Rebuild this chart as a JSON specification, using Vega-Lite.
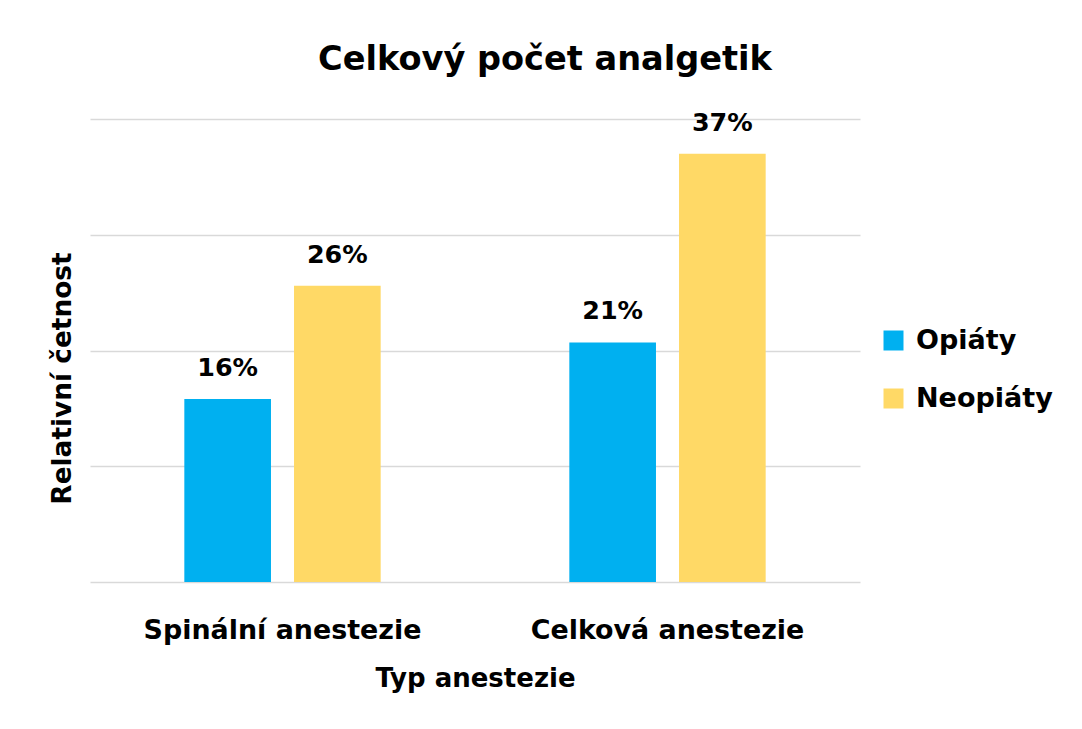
{
  "$schema": "https://vega.github.io/schema/vega-lite/v6.json",
  "width": 770,
  "height": 463,
  "autosize": {"type": "none"},
  "padding": {"left": 90, "top": 119, "right": 222, "bottom": 147},
  "background": "white",
  "config": {"view": {"stroke": null}, "font": "DejaVu Sans"},
  "title": {"text": "Celkový počet analgetik", "fontSize": 33.6, "font": "DejaVu Sans", "fontWeight": "bold", "color": "black", "anchor": "middle", "dx": 70, "offset": 34},
  "data": {"values": [
    {"typ": "Spinální anestezie", "skupina": "Opiáty", "hodnota": 0.158},
    {"typ": "Spinální anestezie", "skupina": "Neopiáty", "hodnota": 0.256},
    {"typ": "Celková anestezie", "skupina": "Opiáty", "hodnota": 0.207},
    {"typ": "Celková anestezie", "skupina": "Neopiáty", "hodnota": 0.37}
  ]},
  "encoding": {
    "x": {"field": "typ", "type": "nominal", "sort": ["Spinální anestezie", "Celková anestezie"],
      "scale": {"paddingInner": 0.49, "paddingOuter": 0.245},
      "title": "Typ anestezie",
      "axis": {"labelAngle": 0, "labelLimit": 400, "domain": false, "ticks": false, "labelFontSize": 26.9, "labelFont": "DejaVu Sans", "labelFontWeight": "bold", "labelColor": "black", "labelPadding": 35, "titleFontSize": 26, "titleFont": "DejaVu Sans", "titleFontWeight": "bold", "titleColor": "black", "titlePadding": 23}},
    "xOffset": {"field": "skupina", "type": "nominal", "sort": ["Opiáty", "Neopiáty"], "scale": {"paddingInner": 0.21}},
    "y": {"field": "hodnota", "type": "quantitative", "scale": {"domain": [0, 0.4]},
      "title": "Relativní četnost",
      "axis": {"values": [0, 0.1, 0.2, 0.3, 0.4], "labels": false, "ticks": false, "domain": false, "gridColor": "#D9D9D9", "gridWidth": 1.5, "titleFontSize": 26.4, "titleFont": "DejaVu Sans", "titleFontWeight": "bold", "titleColor": "black", "titlePadding": 14, "titleY": 259}}
  },
  "layer": [
    {"mark": {"type": "bar"},
      "encoding": {"color": {"field": "skupina", "type": "nominal", "sort": ["Opiáty", "Neopiáty"],
        "scale": {"domain": ["Opiáty", "Neopiáty"], "range": ["#00B0F0", "#FFD966"]},
        "legend": {"title": null, "orient": "none", "legendX": 790, "legendY": 208, "symbolType": "square", "symbolSize": 400, "symbolStrokeWidth": 0, "labelFontSize": 27, "labelFont": "DejaVu Sans", "labelFontWeight": "bold", "labelColor": "black", "rowPadding": 30, "labelOffset": 9}}}},
    {"mark": {"type": "text", "baseline": "alphabetic", "dy": -23, "fontSize": 25.4, "font": "DejaVu Sans", "fontWeight": "bold", "color": "black"},
      "encoding": {"text": {"field": "hodnota", "type": "quantitative", "format": ".0%"}}}
  ]
}
